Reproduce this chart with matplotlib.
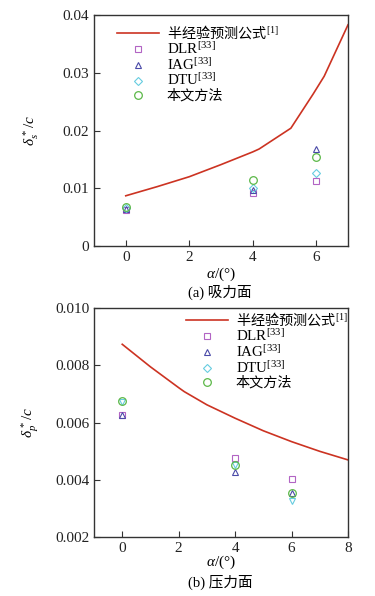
import matplotlib
matplotlib.use('Agg')
import matplotlib.pyplot as plt
from matplotlib.lines import Line2D

plt.rcParams['font.family'] = ['Liberation Serif', 'Noto Sans CJK SC']
plt.rcParams['mathtext.fontset'] = 'custom'
plt.rcParams['mathtext.rm'] = 'Liberation Serif'
plt.rcParams['mathtext.it'] = 'Liberation Serif:italic'
plt.rcParams['mathtext.bf'] = 'Liberation Serif:bold'

# (a) suction side
alpha_line_s = [0, 1, 2, 3, 4, 4.2, 5.2, 5.9, 6.25, 7]
delta_line_s = [0.0087, 0.0103, 0.0120, 0.0141, 0.0163, 0.0168, 0.0204, 0.0263, 0.0294, 0.0383]
alpha_pts = [0, 4, 6]
dlr_s = [0.0063, 0.0091, 0.0113]
iag_s = [0.0064, 0.0097, 0.0168]
dtu_s = [0.0066, 0.0100, 0.0126]
ours_s = [0.0068, 0.0115, 0.0155]

# (b) pressure side
alpha_line_p = [0, 1, 2, 2.2, 3, 4, 5, 6, 7, 8]
delta_line_p = [0.00874, 0.00795, 0.00722, 0.00708, 0.00662, 0.00615, 0.00571, 0.00533, 0.00499, 0.00469]
dlr_p = [0.00627, 0.00477, 0.00401]
iag_p = [0.00626, 0.00428, 0.00352]
dtu_p = [0.00673, 0.00450, 0.00325]
ours_p = [0.00675, 0.00451, 0.00352]

labels = ['半经验预测公式$^{[1]}$', 'DLR$^{[33]}$', 'IAG$^{[33]}$', 'DTU$^{[33]}$', '本文方法']

LINE_C = '#cc3322'
DLR_C = '#b264c4'
IAG_C = '#4a4aa8'
DTU_C = '#66cce0'
OURS_C = '#5cb848'

CJK = ['Noto Sans CJK SC']
SERIF = ['Liberation Serif']


def style_axes(ax):
    for sp in ax.spines.values():
        sp.set_color('#333333')
        sp.set_linewidth(1.0)
    ax.tick_params(direction='in', length=4, width=0.8, labelsize=11,
                   colors='#333333', labelcolor='#222222', top=False, right=False)
    ax.yaxis.set_label_coords(-0.21, 0.5)


def make_legend(ax, handles, anchor):
    leg = ax.legend(handles, labels, loc='upper left', bbox_to_anchor=anchor,
                    frameon=False, fontsize=10, handlelength=3.0, handletextpad=0.6,
                    labelspacing=0.0, borderaxespad=0, borderpad=0)
    for t in leg.get_texts():
        s = t.get_text()
        t.set_family(CJK if s[0] in '半本' else SERIF)
        t.set_fontsize(10.2 if s[0] in '半本' else 10.8)
    return leg


fig = plt.figure(figsize=(3.75, 5.96), dpi=100)

# ---- panel (a)
ax1 = fig.add_axes([0.2507, 0.5872, 0.6773, 0.3876])
ln, = ax1.plot(alpha_line_s, delta_line_s, color=LINE_C, lw=1.2)
h1, = ax1.plot(alpha_pts, dlr_s, 's', mfc='none', mec=DLR_C, ms=4.2, mew=0.8)
h2, = ax1.plot(alpha_pts, iag_s, '^', mfc='none', mec=IAG_C, ms=5, mew=0.8)
h3, = ax1.plot(alpha_pts, dtu_s, 'D', mfc='none', mec=DTU_C, ms=4.2, mew=0.8)
h4, = ax1.plot(alpha_pts, ours_s, 'o', mfc='none', mec=OURS_C, ms=5.5, mew=0.9)
ax1.set_xlim(-1, 7)
ax1.set_ylim(0, 0.04)
ax1.set_xticks([0, 2, 4, 6])
ax1.set_yticks([0, 0.01, 0.02, 0.03, 0.04])
ax1.set_yticklabels(['0', '0.01', '0.02', '0.03', '0.04'])
style_axes(ax1)
ax1.set_xlabel(r'$\alpha$/(°)', fontsize=11, labelpad=1)
ax1.set_ylabel(r'$\delta_s^{\,*}/c$', fontsize=11)
make_legend(ax1, [ln, h1, h2, h3, h4], (0.09, 0.965))
fig.text(0.587, 1 - 292 / 596, '(a) 吸力面', ha='center', va='center', fontsize=10.5,
         family=['Liberation Serif', 'Noto Sans CJK SC'])

# ---- panel (b)
ax2 = fig.add_axes([0.2507, 0.0995, 0.6773, 0.3832])
ln2, = ax2.plot(alpha_line_p, delta_line_p, color=LINE_C, lw=1.2)
g1, = ax2.plot(alpha_pts, dlr_p, 's', mfc='none', mec=DLR_C, ms=4.2, mew=0.8)
g2, = ax2.plot(alpha_pts, iag_p, '^', mfc='none', mec=IAG_C, ms=5, mew=0.8)
ax2.plot(alpha_pts, dtu_p, 'v', mfc='none', mec=DTU_C, ms=5, mew=0.8)
g3 = Line2D([], [], marker='D', ls='none', mfc='none', mec=DTU_C, ms=4.2, mew=0.8)
g4, = ax2.plot(alpha_pts, ours_p, 'o', mfc='none', mec=OURS_C, ms=5.5, mew=0.9)
ax2.set_xlim(-1, 8)
ax2.set_ylim(0.002, 0.010)
ax2.set_xticks([0, 2, 4, 6, 8])
ax2.set_yticks([0.002, 0.004, 0.006, 0.008, 0.010])
ax2.set_yticklabels(['0.002', '0.004', '0.006', '0.008', '0.010'])
style_axes(ax2)
ax2.set_xlabel(r'$\alpha$/(°)', fontsize=11, labelpad=-1)
ax2.set_ylabel(r'$\delta_p^{\,*}/c$', fontsize=11)
make_legend(ax2, [ln2, g1, g2, g3, g4], (0.362, 0.99))
fig.text(0.587, 1 - 582 / 596, '(b) 压力面', ha='center', va='center', fontsize=10.5,
         family=['Liberation Serif', 'Noto Sans CJK SC'])

fig.savefig('out.png', dpi=100)
